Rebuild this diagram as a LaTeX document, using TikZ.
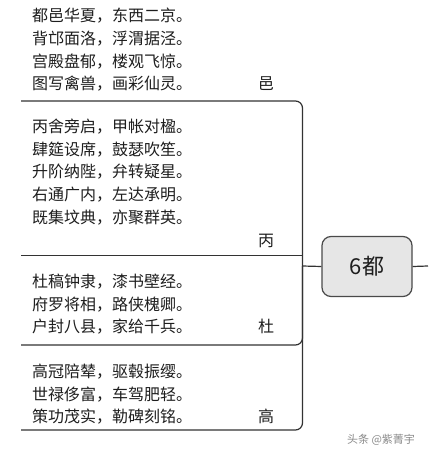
\documentclass[tikz,border=0pt]{standalone}
\usepackage{fontspec}
\newfontfamily\cjk{Noto Sans CJK SC}
\definecolor{linec}{HTML}{333333}
\definecolor{txtc}{HTML}{1E1E1E}
\definecolor{boxfill}{HTML}{E6E6E6}
\definecolor{boxdraw}{HTML}{4A4A4A}
\definecolor{wmc}{HTML}{8A8A8A}
\begin{document}
\begin{tikzpicture}[x=1pt,y=-1pt,
  verse/.style={anchor=base west,inner sep=0pt,text=txtc,
    font=\cjk\fontsize{16pt}{18pt}\selectfont},
  tag/.style={anchor=base,inner sep=0pt,text=txtc,font=\cjk\fontsize{16pt}{18pt}\selectfont},
  branch/.style={draw=linec,line width=1.2pt,rounded corners=7pt},
  rootbox/.style={draw=boxdraw,fill=boxfill,line width=1.2pt,rounded corners=9pt,
    minimum width=90pt,minimum height=60pt,inner sep=0pt,text=txtc,
    font=\cjk\fontsize{22pt}{24pt}\selectfont}]
\useasboundingbox[fill=white] (0,0) rectangle (428,457);

% block 邑
\node[verse] (y1) at (32,22.0) {都邑华夏，东西二京。};
\node[verse] (y2) at (32,44.6) {背邙面洛，浮渭据泾。};
\node[verse] (y3) at (32,67.2) {宫殿盘郁，楼观飞惊。};
\node[verse] (y4) at (32,89.8) {图写禽兽，画彩仙灵。};
\node[tag] (lyi) at (266,89.8) {邑};
% block 丙
\node[verse] (b1) at (32,132.6) {丙舍旁启，甲帐对楹。};
\node[verse] (b2) at (32,155.2) {肆筵设席，鼓瑟吹笙。};
\node[verse] (b3) at (32,177.8) {升阶纳陛，弁转疑星。};
\node[verse] (b4) at (32,200.4) {右通广内，左达承明。};
\node[verse] (b5) at (32,223.0) {既集坟典，亦聚群英。};
\node[tag] (lbing) at (266,246) {丙};
% block 杜
\node[verse] (d1) at (32,287.6) {杜稿钟隶，漆书壁经。};
\node[verse] (d2) at (32,310.2) {府罗将相，路侠槐卿。};
\node[verse] (d3) at (32,332.8) {户封八县，家给千兵。};
\node[tag] (ldu) at (266,332.8) {杜};
% block 高
\node[verse] (g1) at (32,377.6) {高冠陪辇，驱毂振缨。};
\node[verse] (g2) at (32,400.2) {世禄侈富，车驾肥轻。};
\node[verse] (g3) at (32,422.8) {策功茂实，勒碑刻铭。};
\node[tag] (lgao) at (266,422.8) {高};

% root
\node[rootbox] (root) at (367,266.5) {6都};
\coordinate (jn) at (302.5,266);
\coordinate (out) at (428,266);

% branch lines
\coordinate (yiL) at (21,101);
\coordinate (bingL) at (21,255.5);
\coordinate (duL) at (21,345);
\coordinate (gaoL) at (21,430);
\draw[branch] (yiL) -| (jn);
\draw[branch,rounded corners=0pt] (bingL) -| (jn);
\draw[branch] (duL) -| (jn);
\draw[branch] (gaoL) -| (jn);
\draw[branch] (jn) -- (root.west);
\draw[branch] (root.east) -- (out);

% watermark
\node[inner sep=0pt,text=wmc,font=\cjk\fontsize{11pt}{12pt}\selectfont] (wm) at (381,440) {头条 @紫菁宇};
\end{tikzpicture}
\end{document}
